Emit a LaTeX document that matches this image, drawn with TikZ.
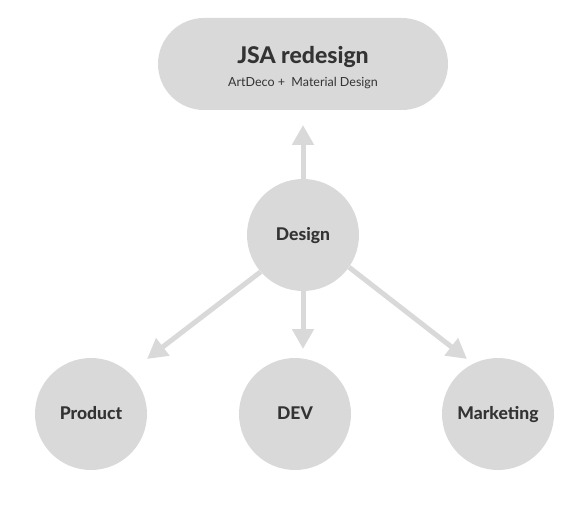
\documentclass[tikz,border=0pt]{standalone}
\usepackage{fontspec}
\setmainfont{Lato}[BoldFont={Lato Heavy}]
\usetikzlibrary{arrows.meta,shapes.misc}
\definecolor{shapegray}{RGB}{217,217,217}
\definecolor{textdark}{RGB}{51,51,51}
\tikzset{
  bubble/.style={circle, fill=shapegray, draw=none, minimum size=112pt, inner sep=0pt,
    text=textdark, font=\fontsize{17.5}{20}\selectfont\bfseries,
    text height=11pt, text depth=0pt},
  pill/.style={rounded rectangle, fill=shapegray, draw=none, minimum width=290pt,
    minimum height=92pt, inner sep=0pt},
  arr/.style={draw=shapegray, line width=5pt, -{Triangle[width=21pt,length=20pt]}},
}
\begin{document}
\begin{tikzpicture}[x=1pt,y=-1pt]
\useasboundingbox (0,0) rectangle (583,510);
\node[pill] (top) at (303,64) {};
\node[text=textdark, font=\fontsize{23}{25}\selectfont\bfseries] (title) at (303,57) {JSA redesign};
\node[text=textdark, font=\fontsize{12.5}{14}\selectfont] (subtitle) at (303,83) {ArtDeco +\ \ Material Design};
\node[bubble] (design) at (303,235) {Design};
\node[bubble] (product) at (91,414) {Product};
\node[bubble] (dev) at (295,414) {DEV};
\node[bubble] (marketing) at (498,414) {Marketing};
\coordinate (tipup) at (303,125);
\coordinate (tipdev) at (303,349);
\coordinate (tipprod) at (147,359);
\coordinate (tipmark) at (467,359);
\draw[arr] (design.north) -- (tipup);
\draw[arr] (design.south) -- (tipdev);
\draw[arr] (design.221) -- (tipprod);
\draw[arr] (design.325) -- (tipmark);
\end{tikzpicture}
\end{document}
